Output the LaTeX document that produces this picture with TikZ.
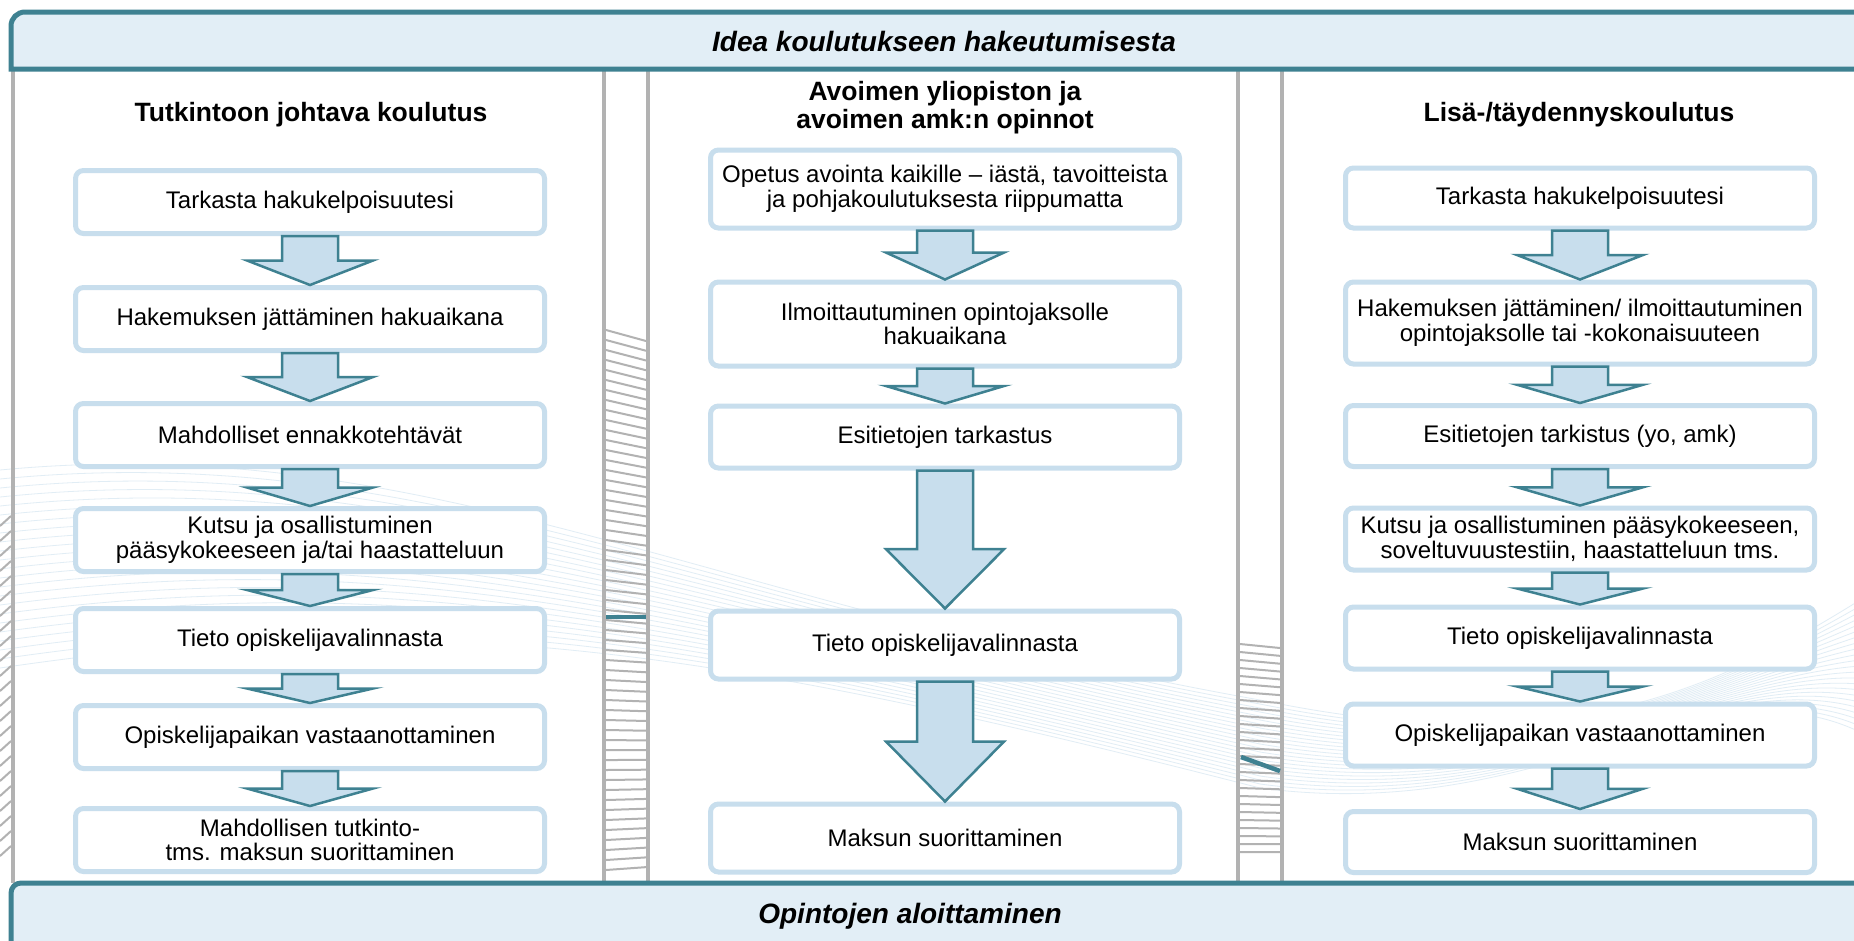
\documentclass[tikz,border=0pt]{standalone}
\usepackage{fontspec}
\setmainfont{Liberation Sans}
\usepackage{xcolor}
\definecolor{Col1}{RGB}{62,129,145}
\definecolor{Col2}{RGB}{226,238,246}
\definecolor{Col3}{RGB}{200,222,237}
\definecolor{Col4}{RGB}{178,178,178}
\usepackage{tikz}
\usetikzlibrary{calc}
\tikzstyle{Bar}=[draw=Col1,fill=Col2,line width=5pt]
\tikzstyle{BarText}=[font=\fontsize{28}{30}\selectfont\bfseries\itshape]
\tikzstyle{Head}=[font=\fontsize{26.5}{28}\selectfont\bfseries,align=center]
\tikzstyle{Step}=[draw=Col3,fill=white,line width=5pt,rounded corners=8pt,
minimum width=469pt,minimum height=63pt,inner xsep=4pt,align=center,
font=\fontsize{24}{24.5}\selectfont]
\tikzstyle{Flow}=[draw=Col1,fill=Col3,line width=2.5pt,line join=miter]
\tikzstyle{Sep}=[draw=Col4,line width=4pt]
\tikzstyle{Hatch}=[draw=Col4,line width=2pt]
\tikzstyle{Wave}=[draw=Col3!55,line width=.8pt]
\newcommand{\FlowArrow}[4]{%
  \draw[Flow] let \p1=(#1.south), \p2=(#2.north),
    \p3=($(#2.north)!#4!(#1.south)$) in
    (\x1-28pt,\y1)--(\x1+28pt,\y1)--(\x1+28pt,\y3)--(\x1+#3,\y3)
    --(\x1,\y2)--(\x1-#3,\y3)--(\x1-28pt,\y3)--cycle;}

\begin{document}
\begin{tikzpicture}[x=1pt,y=-1pt]
            \useasboundingbox(0,0)rectangle(1854,940);
            \fill[white](0,0)rectangle(1854,940);
            % faint waves of the background
            \foreach \k in {0,...,22}{
                \draw[Wave](0,470+\k*9)..controls(420,430+\k*8)and(700,600+\k*2)
                    ..(1260,700+\k*4)..controls(1550,760+\k*3)and(1700,700-\k*2)..(1860,600+\k*6);}
            % hatching behind the separators
            \foreach \y in {330,340,...,875}{
                \pgfmathsetmacro\s{11-14*(\y-330)/545}
                \draw[Hatch](606,\y)--(646,\y+\s);}
            \foreach \y in {644,652,...,855}{
                \pgfmathsetmacro\s{4-4*(\y-644)/211}
                \draw[Hatch](1240,\y)--(1280,\y+\s);}
            \foreach \y in {520,535,...,850}{
                \draw[Hatch](0,\y+6)--(11,\y-4);}
            \draw[Sep](13,69)--(13,883);
            \draw[Sep](604,69)--(604,883);
            \draw[Sep](648,69)--(648,883);
            \draw[Sep](1238,69)--(1238,883);
            \draw[Sep](1282,69)--(1282,883);
            \draw[Col1,line width=4.5pt](606,617)--(646,617);
            \draw[Col1,line width=4.5pt](1241,757)--(1280,771);
            % bars
            \draw[Bar](1870,69)--(11,69)--(11,26)
                arc[start angle=180,end angle=90,radius=14pt]--(1870,12)--cycle;
            \draw[Bar,rounded corners=10pt](11,883)rectangle(1870,950);
            \node[BarText](idea)at(944,41){Idea koulutukseen hakeutumisesta};
            \node[BarText](start)at(910,916){Opintojen aloittaminen};
            % column titles
            \node[Head](h1)at(311,115){Tutkintoon johtava koulutus};
            \node[Head](h2)at(945,108){Avoimen yliopiston ja\\avoimen amk:n opinnot};
            \node[Head](h3)at(1579,115){Lisä-/täydennyskoulutus};
            % Tutkintoon johtava koulutus
            \node[Step](t1)at(310,202){Tarkasta hakukelpoisuutesi};
            \node[Step](t2)at(310,319){Hakemuksen jättäminen hakuaikana};
            \node[Step](t3)at(310,435){Mahdolliset ennakkotehtävät};
            \node[Step](t4)at(310,540)
                {Kutsu ja osallistuminen\\pääsykokeeseen ja/tai haastatteluun};
            \node[Step](t5)at(310,640){Tieto opiskelijavalinnasta};
            \node[Step](t6)at(310,737){Opiskelijapaikan vastaanottaminen};
            \node[Step](t7)at(310,840)
                {Mahdollisen tutkinto-\\tms. maksun suorittaminen};
            % avoin yliopisto ja amk
            \node[Step,minimum height=78pt](a1)at(945,189)
                {Opetus avointa kaikille – iästä, tavoitteista\\ja pohjakoulutuksesta riippumatta};
            \node[Step,minimum height=84pt](a2)at(945,324)
                {Ilmoittautuminen opintojaksolle\\hakuaikana};
            \node[Step,minimum height=62pt](a3)at(945,437){Esitietojen tarkastus};
            \node[Step,minimum height=68pt](a4)at(945,645){Tieto opiskelijavalinnasta};
            \node[Step,minimum height=68pt](a5)at(945,838){Maksun suorittaminen};
            % Lisä-/täydennyskoulutus
            \node[Step,minimum height=60pt](l1)at(1580,198){Tarkasta hakukelpoisuutesi};
            \node[Step,minimum height=82pt](l2)at(1580,323)
                {Hakemuksen jättäminen/ ilmoittautuminen\\opintojaksolle tai -kokonaisuuteen};
            \node[Step,minimum height=61pt](l3)at(1580,436){Esitietojen tarkistus (yo, amk)};
            \node[Step,minimum height=62pt](l4)at(1580,539)
                {Kutsu ja osallistuminen pääsykokeeseen,\\soveltuvuustestiin, haastatteluun tms.};
            \node[Step,minimum height=62pt](l5)at(1580,638){Tieto opiskelijavalinnasta};
            \node[Step,minimum height=62pt](l6)at(1580,735){Opiskelijapaikan vastaanottaminen};
            \node[Step,minimum height=61pt](l7)at(1580,842){Maksun suorittaminen};
            % arrows
            \FlowArrow{t1}{t2}{63pt}{.5}
            \FlowArrow{t2}{t3}{63pt}{.5}
            \FlowArrow{t3}{t4}{63pt}{.5}
            \FlowArrow{t4}{t5}{63pt}{.5}
            \FlowArrow{t5}{t6}{63pt}{.5}
            \FlowArrow{t6}{t7}{63pt}{.5}
            \FlowArrow{a1}{a2}{59pt}{.55}
            \FlowArrow{a2}{a3}{59pt}{.5}
            \FlowArrow{a3}{a4}{59pt}{.43}
            \FlowArrow{a4}{a5}{59pt}{.5}
            \FlowArrow{l1}{l2}{63pt}{.5}
            \FlowArrow{l2}{l3}{63pt}{.5}
            \FlowArrow{l3}{l4}{63pt}{.5}
            \FlowArrow{l4}{l5}{63pt}{.5}
            \FlowArrow{l5}{l6}{63pt}{.5}
            \FlowArrow{l6}{l7}{63pt}{.5}
        \end{tikzpicture}
\end{document}
